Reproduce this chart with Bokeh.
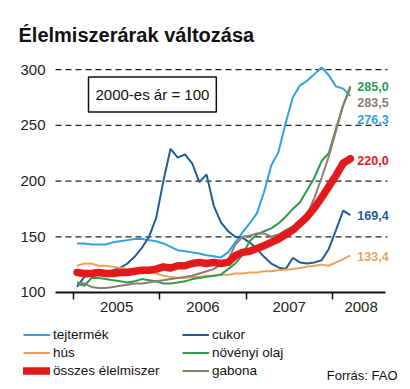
from bokeh.plotting import figure
from bokeh.models import FixedTicker, Label, Legend, LegendItem, Range1d
from bokeh.embed import file_html
from bokeh.resources import INLINE

# Monthly index values, Jan 2005 .. Mar 2008 (2000 = 100)
months = list(range(39))
tejtermek = [144, 144, 143, 143, 143, 145, 146, 147, 148, 148, 147, 146,
             144, 141, 138, 137, 136, 135, 133.5, 132.5, 131.5, 136, 145, 154,
             162, 171, 190, 214, 226, 252, 275, 286, 290, 296, 302, 295,
             285, 283, 276.3]
cukor = [105, 114, 115, 116, 118, 120, 122, 126, 132, 140, 150, 167,
         200, 229, 221, 224, 216, 199, 206, 178, 163, 155, 150, 149,
         145, 139, 132, 126, 122.5, 121, 131, 127, 126, 127, 129, 139,
         156, 173.5, 169.4]
hus = [124, 126, 126, 124, 124, 123, 122, 121, 120, 119, 118, 117,
       115, 114, 113, 113, 114, 114, 115, 115, 116, 116, 117, 117,
       118, 118, 119, 119, 120, 120.5, 121, 122, 123, 124, 125, 124,
       127, 130, 133.4]
olaj = [108, 106, 113, 113, 112, 111, 110, 109, 110, 112, 111, 110,
        108, 108, 109, 110, 112, 113, 114, 115, 116, 121, 126, 134,
        146, 152, 155, 157.5, 162, 168, 175, 181, 192, 203, 218, 225,
        247, 268, 285]
osszes = [118, 117, 117, 118, 117, 117, 118, 118, 119, 120, 120, 121,
          123, 122, 124, 124, 126, 127, 126, 127, 126, 127, 133, 136,
          137, 139.5, 142, 145, 148, 152, 156, 162, 168, 176, 185, 195,
          205, 216, 220]
gabona = [109, 108, 105, 104, 104, 105, 106, 107, 108, 108, 109, 110,
          111, 112, 113, 114, 115, 117, 119, 121, 125, 129, 143, 150,
          151, 153, 153, 150, 152, 156, 159, 160, 170, 185, 203, 222,
          245, 268, 283.5]

year_labels = ["2005", "2006", "2007", "2008"]
year_label_pos = [6, 18, 30, 40]
year_starts = [0, 12, 24, 36]
y_ticks = [100, 150, 200, 250, 300]
grid_ticks = [150, 200, 250, 300]

x = [m + 0.5 for m in months]

FONT = "Liberation Sans"

C_TEJ = "#2ea3dc"
C_CUK = "#1f5c99"
C_HUS = "#eaa25c"
C_OLA = "#2f9b4c"
C_OSS = "#e31a1c"
C_GAB = "#8b7d70"

W, H = 406, 385
X0, X1 = -2.5, 43.4     # visible axis extent (months)
XG = 43.67              # right end of dashed guide lines

p = figure(width=W, height=H, output_backend="svg", toolbar_location=None,
           x_range=Range1d(-10.15, 46.31), y_range=Range1d(16.5, 362.1),
           min_border=0, min_border_left=0, min_border_right=0,
           min_border_top=0, min_border_bottom=0)
p.outline_line_color = None
p.background_fill_color = "white"
p.border_fill_color = "white"

# x axis (drawn at value 100)
xa = p.xaxis[0]
xa.fixed_location = 100
xa.bounds = (X0, X1)
xa.ticker = FixedTicker(ticks=year_label_pos, minor_ticks=year_starts)
xa.major_label_overrides = {pos: lab for pos, lab in zip(year_label_pos, year_labels)}
xa.major_tick_out = 0
xa.major_tick_in = 0
xa.minor_tick_out = 7
xa.minor_tick_in = 0
xa.minor_tick_line_color = "#111"
xa.minor_tick_line_width = 1.5
xa.axis_line_color = "#111"
xa.axis_line_width = 2
xa.major_label_standoff = 3
xa.major_label_text_font = FONT
xa.major_label_text_font_size = "15px"
xa.major_label_text_color = "#222"

# y axis (drawn at left edge of the chart area)
ya = p.yaxis[0]
ya.fixed_location = X0
ya.ticker = FixedTicker(ticks=y_ticks)
ya.axis_line_color = None
ya.major_tick_out = 0
ya.major_tick_in = 0
ya.minor_tick_out = 0
ya.minor_tick_in = 0
ya.major_tick_line_color = None
ya.minor_tick_line_color = None
ya.major_label_standoff = 10
ya.major_label_text_font = FONT
ya.major_label_text_font_size = "15px"
ya.major_label_text_color = "#222"

p.xgrid.visible = False
p.ygrid.visible = False
# dashed guide lines at the y ticks
p.segment(x0=[X0] * len(grid_ticks), y0=grid_ticks,
          x1=[XG] * len(grid_ticks), y1=grid_ticks,
          line_color="#222", line_dash="6 4", line_width=1.3)

r_tej = p.line(x, tejtermek, line_color=C_TEJ, line_width=2)
r_cuk = p.line(x, cukor, line_color=C_CUK, line_width=2)
r_hus = p.line(x, hus, line_color=C_HUS, line_width=2)
r_ola = p.line(x, olaj, line_color=C_OLA, line_width=2)
r_gab = p.line(x, gabona, line_color=C_GAB, line_width=2)
r_oss = p.line(x, osszes, line_color=C_OSS, line_width=7.5,
               line_join="round", line_cap="round")

# end value labels
def fmt(v):
    return f"{v:.1f}".replace(".", ",")

ends = [(olaj, C_OLA, 0), (gabona, C_GAB, -14), (tejtermek, C_TEJ, -23),
        (osszes, C_OSS, -2), (cukor, C_CUK, 0), (hus, C_HUS, -1)]
for series, col, dy in ends:
    p.add_layout(Label(x=x[-1], y=series[-1], x_offset=7, y_offset=dy,
                       text=fmt(series[-1]), text_color=col,
                       text_font=FONT, text_font_style="bold",
                       text_font_size="12.5px", text_baseline="middle",
                       text_align="left"))

# title
p.add_layout(Label(x=18, y=350.5, x_units="screen", y_units="screen",
                   text="Élelmiszerárak változása", text_font=FONT,
                   text_font_style="bold", text_font_size="20px",
                   text_color="#111", text_baseline="alphabetic"))

# base note box
p.add_layout(Label(x=88, y=291, x_units="screen", y_units="screen",
                   text="2000-es ár = 100", text_font=FONT,
                   text_font_size="15px", text_color="#111",
                   text_baseline="middle", text_align="left",
                   border_line_color="#111", border_line_width=1.5,
                   background_fill_color="white", padding=(7, 9)))

# source
p.add_layout(Label(x=397, y=10, x_units="screen", y_units="screen",
                   text="Forrás: FAO", text_font=FONT, text_font_size="13px",
                   text_color="#111", text_align="right",
                   text_baseline="alphabetic"))

def make_legend(items, loc):
    return Legend(items=items, location=loc, orientation="vertical",
                  border_line_color=None, background_fill_alpha=0,
                  padding=0, margin=0, spacing=1, glyph_width=27,
                  glyph_height=17, label_height=17, label_standoff=3,
                  label_text_font=FONT, label_text_font_size="13.5px",
                  label_text_color="#111")

leg1 = make_legend([LegendItem(label="tejtermék", renderers=[r_tej]),
                    LegendItem(label="hús", renderers=[r_hus]),
                    LegendItem(label="összes élelmiszer", renderers=[r_oss])],
                   (23, 6))
leg2 = make_legend([LegendItem(label="cukor", renderers=[r_cuk]),
                    LegendItem(label="növényi olaj", renderers=[r_ola]),
                    LegendItem(label="gabona", renderers=[r_gab])],
                   (182, 6))
p.add_layout(leg1)
p.add_layout(leg2)

open("out.html", "w").write(file_html(p, INLINE))
